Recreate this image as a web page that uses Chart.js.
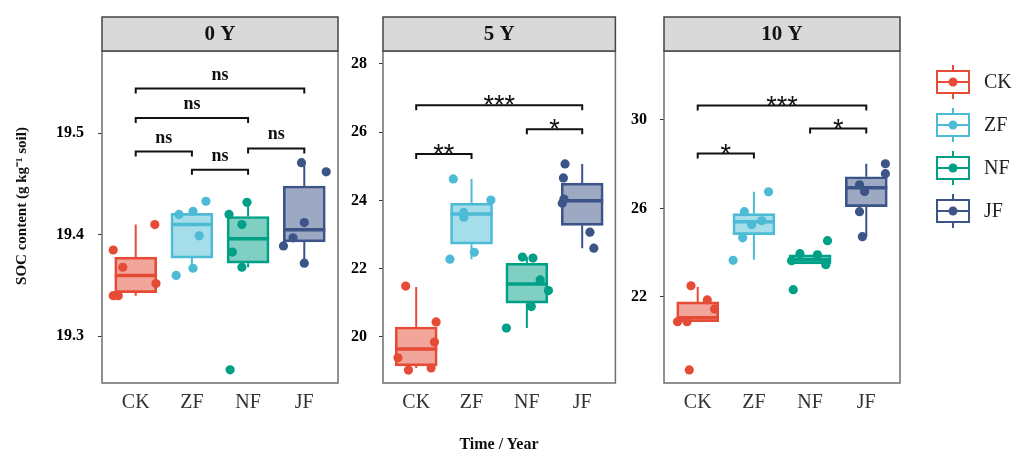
<!DOCTYPE html>
<html>
<head>
<meta charset="utf-8">
<script src="https://cdn.jsdelivr.net/npm/chart.js@4.4.1/dist/chart.umd.min.js"></script>
<style>
  body { margin: 0; background: #fff; width: 1014px; height: 453px; position: relative; overflow: hidden; font-family: "Liberation Serif", serif; }
  .pane { position: absolute; top: 0; height: 453px; }
  #xtitle { position: absolute; left: 399px; width: 200px; top: 435px; text-align: center; font-weight: bold; font-size: 16px; color: #111; }
</style>
</head>
<body>
<div class="pane" style="left:0;width:345px"><canvas id="c0"></canvas></div>
<div class="pane" style="left:345px;width:275px"><canvas id="c1"></canvas></div>
<div class="pane" style="left:620px;width:394px"><canvas id="c2"></canvas></div>
<div id="xtitle">Time / Year</div>
<script>
// grupos e cores
const grupos = ['CK', 'ZF', 'NF', 'JF'];
const cores = ['#E64B35', '#4DBBD5', '#00A087', '#3C5488'];
const anos = ['0 Y', '5 Y', '10 Y'];

// 0 Y - pontos (SOC) e deslocamento horizontal (jitter)
const soc0 = [[19.34, 19.34, 19.352, 19.368, 19.385, 19.41], [19.36, 19.367, 19.399, 19.42, 19.423, 19.433], [19.267, 19.368, 19.383, 19.41, 19.42, 19.432], [19.372, 19.389, 19.397, 19.412, 19.462, 19.471]];
const jit0 = [[-0.40, -0.31, 0.36, -0.23, -0.40, 0.34], [-0.28, 0.02, 0.13, -0.23, 0.02, 0.25], [-0.32, -0.11, -0.28, -0.11, -0.34, -0.02], [0, -0.37, -0.2, 0, 0.39, -0.05]];
const min0 = [19.34, 19.367, 19.368, 19.372];
const q1_0 = [19.343, 19.377, 19.372, 19.393];
const med0 = [19.36, 19.41, 19.396, 19.405];
const q3_0 = [19.378, 19.421, 19.418, 19.448];
const max0 = [19.41, 19.425, 19.432, 19.471];

// 5 Y
const soc1 = [[19.03, 19.09, 19.39, 19.85, 20.44, 21.49], [22.28, 22.48, 23.51, 23.65, 24.01, 24.63], [20.26, 20.89, 21.36, 21.67, 22.31, 22.34], [22.6, 23.07, 23.92, 24.04, 24.66, 25.07]];
const jit1 = [[-0.14, 0.27, -0.33, 0.33, 0.36, -0.19], [-0.39, 0.05, -0.14, -0.14, 0.35, -0.33], [-0.37, 0.08, 0.39, 0.24, 0.11, -0.08], [0.21, 0.14, -0.36, -0.33, -0.34, -0.31]];
const min1 = [19.09, 22.28, 20.26, 22.6];
const q1_1 = [19.15, 22.72, 20.99, 23.27];
const med1 = [19.65, 23.6, 21.55, 23.99];
const q3_1 = [20.29, 23.92, 22.16, 24.51];
const max1 = [21.46, 24.63, 22.35, 25.07];

// 10 Y
const soc2 = [[18.69, 20.87, 20.87, 21.45, 21.86, 22.5], [23.65, 24.67, 25.26, 25.44, 25.85, 26.75], [22.32, 23.45, 23.63, 23.9, 23.95, 24.54], [24.72, 25.85, 26.76, 27.07, 27.57, 28.02]];
const jit2 = [[-0.15, -0.36, -0.19, 0.3, 0.17, -0.12], [-0.37, -0.2, -0.04, 0.14, -0.17, 0.26], [-0.3, 0.28, -0.33, 0.13, -0.18, 0.31], [-0.07, -0.12, -0.03, -0.12, 0.34, 0.34]];
const min2 = [20.87, 23.68, 23.49, 24.72];
const q1_2 = [20.87, 24.81, 23.49, 26.08];
const med2 = [21.05, 25.4, 23.68, 26.93];
const q3_2 = [21.77, 25.76, 23.9, 27.43];
const max2 = [22.45, 26.75, 23.9, 28.02];

// marcas do eixo Y
const yTicks0 = [19.3, 19.4, 19.5];
const yTicks1 = [20, 22, 24, 26, 28];
const yTicks2 = [22, 26, 30];

// comparações de significância
const pares0 = [[0, 3], [0, 2], [0, 1], [1, 2], [2, 3]];
const sigY0 = [19.544, 19.515, 19.482, 19.464, 19.485];
const sig0 = ['ns', 'ns', 'ns', 'ns', 'ns'];
const pares1 = [[0, 3], [0, 1], [2, 3]];
const sigY1 = [26.79, 25.36, 26.09];
const sig1 = ['***', '**', '*'];
const pares2 = [[0, 3], [0, 1], [2, 3]];
const sigY2 = [30.65, 28.48, 29.61];
const sig2 = ['***', '*', '*'];

function rgba(hex, a) {
  const n = parseInt(hex.slice(1), 16);
  return 'rgba(' + (n >> 16) + ',' + ((n >> 8) & 255) + ',' + (n & 255) + ',' + a + ')';
}

// plugin: caixa superior, borda, bigodes, mediana, colchetes
const facetaPlugin = {
  id: 'faceta',
  afterDatasetDraw(chart, args) {
    const cfg = chart.options.plugins.faceta;
    if (args.index !== 0) return;
    const x = chart.scales.x, y = chart.scales.y, ctx = chart.ctx;
    ctx.save();
    for (let i = 0; i < grupos.length; i++) {
      const cx = x.getPixelForValue(i + 1);
      ctx.strokeStyle = cores[i];
      ctx.lineWidth = 2;
      ctx.beginPath();
      ctx.moveTo(cx, y.getPixelForValue(cfg.q3[i]));
      ctx.lineTo(cx, y.getPixelForValue(cfg.max[i]));
      ctx.moveTo(cx, y.getPixelForValue(cfg.q1[i]));
      ctx.lineTo(cx, y.getPixelForValue(cfg.min[i]));
      ctx.stroke();
      ctx.lineWidth = 3.5;
      ctx.beginPath();
      const my = y.getPixelForValue(cfg.med[i]);
      ctx.moveTo(cx - 21, my);
      ctx.lineTo(cx + 21, my);
      ctx.stroke();
    }
    ctx.restore();
  },
  afterDraw(chart) {
    const cfg = chart.options.plugins.faceta;
    const a = chart.chartArea, ctx = chart.ctx;
    const x = chart.scales.x, y = chart.scales.y;
    ctx.save();
    // borda do painel
    ctx.strokeStyle = '#6e6e6e';
    ctx.lineWidth = 1.5;
    ctx.strokeRect(a.left, a.top, a.right - a.left, a.bottom - a.top);
    // faixa do título
    ctx.fillStyle = '#D9D9D9';
    ctx.fillRect(a.left, 17, a.right - a.left, a.top - 17);
    ctx.strokeStyle = '#444';
    ctx.lineWidth = 1.5;
    ctx.strokeRect(a.left, 17, a.right - a.left, a.top - 17);
    ctx.fillStyle = '#111';
    ctx.font = 'bold 21px "Liberation Serif"';
    ctx.textAlign = 'center';
    ctx.textBaseline = 'middle';
    ctx.fillText(cfg.titulo, (a.left + a.right) / 2, 35);
    // colchetes de significância
    ctx.strokeStyle = '#111';
    ctx.lineWidth = 2;
    cfg.pares.forEach((p, k) => {
      const x1 = x.getPixelForValue(p[0] + 1), x2 = x.getPixelForValue(p[1] + 1);
      const yy = y.getPixelForValue(cfg.sigY[k]);
      ctx.beginPath();
      ctx.moveTo(x1, yy + 5);
      ctx.lineTo(x1, yy);
      ctx.lineTo(x2, yy);
      ctx.lineTo(x2, yy + 5);
      ctx.stroke();
      const lab = cfg.sig[k];
      ctx.fillStyle = '#111';
      if (lab === 'ns') {
        ctx.font = 'bold 18px "Liberation Serif"';
        ctx.textBaseline = 'alphabetic';
        ctx.fillText(lab, (x1 + x2) / 2, yy - 9);
      } else {
        ctx.font = '27px "Liberation Sans"';
        ctx.textBaseline = 'alphabetic';
        ctx.fillText(lab, (x1 + x2) / 2, yy + 9);
      }
    });
    // título do eixo Y
    if (cfg.tituloY) {
      ctx.translate(22, 206);
      ctx.rotate(-Math.PI / 2);
      ctx.font = 'bold 15px "Liberation Serif"';
      ctx.textBaseline = 'middle';
      ctx.fillText('SOC content (g kg\u207B\u00B9 soil)', 0, 0);
      ctx.setTransform(1, 0, 0, 1, 0, 0);
    }
    // legenda
    if (cfg.legenda) {
      const lx = 317;
      grupos.forEach((g, i) => {
        const cy = 82 + i * 43;
        ctx.strokeStyle = cores[i];
        ctx.lineWidth = 2;
        ctx.fillStyle = '#fff';
        ctx.beginPath();
        ctx.moveTo(lx + 16, cy - 17);
        ctx.lineTo(lx + 16, cy + 17);
        ctx.stroke();
        ctx.fillRect(lx, cy - 11, 32, 22);
        ctx.strokeRect(lx, cy - 11, 32, 22);
        ctx.beginPath();
        ctx.moveTo(lx, cy);
        ctx.lineTo(lx + 32, cy);
        ctx.stroke();
        ctx.fillStyle = cores[i];
        ctx.beginPath();
        ctx.arc(lx + 16, cy, 4.5, 0, Math.PI * 2);
        ctx.fill();
        ctx.fillStyle = '#222';
        ctx.font = '20px "Liberation Serif"';
        ctx.textAlign = 'left';
        ctx.textBaseline = 'middle';
        ctx.fillText(g, lx + 47, cy + 1);
      });
    }
    ctx.restore();
  }
};

function criarPainel(id, k, soc, jit, mn, q1, med, q3, mx, yTicks, yMin, yMax, yW, padR, tickPad, pares, sigY, sig, casas) {
  const pontos = [], corPontos = [];
  soc.forEach((vals, i) => {
    vals.forEach((v, j) => {
      pontos.push({ x: i + 1 + jit[i][j], y: v });
      corPontos.push(cores[i]);
    });
  });
  return new Chart(document.getElementById(id), {
    data: {
      datasets: [{
        type: 'bar',
        data: grupos.map((g, i) => ({ x: i + 1, y: [q1[i], q3[i]] })),
        backgroundColor: cores.map(c => rgba(c, 0.5)),
        borderColor: cores,
        borderWidth: 2,
        borderSkipped: false,
        barThickness: 42,
        order: 2
      }, {
        type: 'scatter',
        data: pontos,
        pointRadius: 4.6,
        pointBackgroundColor: corPontos,
        pointBorderWidth: 0,
        order: 1
      }]
    },
    options: {
      responsive: true,
      maintainAspectRatio: false,
      animation: false,
      layout: { padding: { left: 0, right: padR, top: 51, bottom: 0 } },
      scales: {
        x: {
          type: 'linear',
          offset: false,
          min: 0.4,
          max: 4.6,
          afterBuildTicks: s => { s.ticks = grupos.map((g, i) => ({ value: i + 1 })); },
          afterFit: s => { s.height = 70; },
          grid: { display: false, drawTicks: false, offset: false },
          border: { display: false },
          ticks: {
            padding: 8,
            color: '#333',
            font: { family: 'Liberation Serif', size: 20 },
            callback: v => grupos[v - 1]
          }
        },
        y: {
          min: yMin,
          max: yMax,
          afterBuildTicks: s => { s.ticks = yTicks.map(v => ({ value: v })); },
          afterFit: s => { s.width = yW; },
          grid: { drawOnChartArea: false, drawTicks: true, tickLength: 4, color: '#333' },
          border: { display: false },
          ticks: {
            padding: tickPad,
            color: '#000',
            font: { family: 'Liberation Serif', size: 16, weight: 'bold' },
            callback: v => v.toFixed(casas)
          }
        }
      },
      plugins: {
        legend: { display: false },
        tooltip: { enabled: false },
        faceta: {
          titulo: anos[k], min: mn, q1: q1, med: med, q3: q3, max: mx,
          pares: pares, sigY: sigY, sig: sig,
          tituloY: k === 0, legenda: k === 2
        }
      }
    },
    plugins: [facetaPlugin]
  });
}

criarPainel('c0', 0, soc0, jit0, min0, q1_0, med0, q3_0, max0, yTicks0, 19.254, 19.581, 102, 7, 14, pares0, sigY0, sig0, 1);
criarPainel('c1', 1, soc1, jit1, min1, q1_1, med1, q3_1, max1, yTicks1, 18.65, 28.38, 38, 1, 12, pares1, sigY1, sig1, 0);
criarPainel('c2', 2, soc2, jit2, min2, q1_2, med2, q3_2, max2, yTicks2, 18.10, 33.12, 44, 114, 13, pares2, sigY2, sig2, 0);
</script>
</body>
</html>
